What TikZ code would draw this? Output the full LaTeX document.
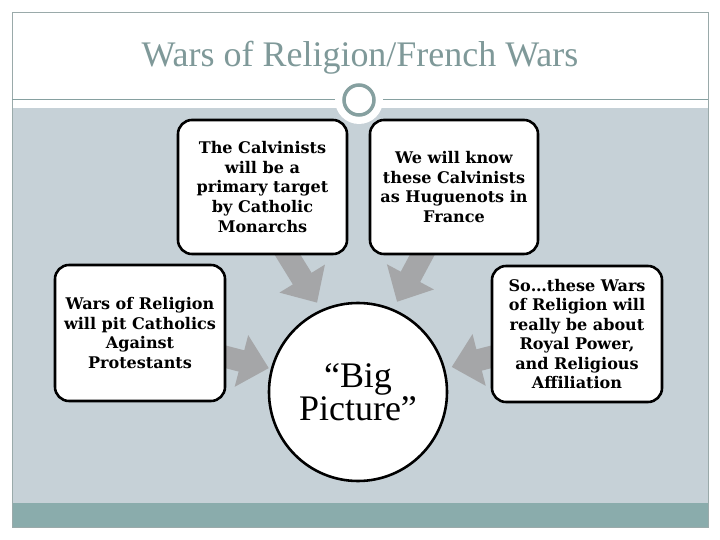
\documentclass[tikz,border=0pt]{standalone}
\usepackage{fontspec}
\setmainfont{Liberation Serif}
\newfontfamily\boxfont{DejaVu Serif}
\usetikzlibrary{arrows.meta}

\definecolor{panelgray}{HTML}{C6D1D7}
\definecolor{bandteal}{HTML}{8AACAC}
\definecolor{titlegray}{HTML}{7F9999}
\definecolor{ringgray}{HTML}{86A0A0}
\definecolor{arrowgray}{HTML}{A5A6A8}
\definecolor{framegray}{HTML}{9AAAAA}

\pgfdeclarelayer{slide}
\pgfdeclarelayer{arrows}
\pgfsetlayers{slide,arrows,main}

\begin{document}
\begin{tikzpicture}[
        x=0.03cm, y=-0.03cm,
        % Stili generali
        infobox/.style={draw=black, line width=2.2pt, fill=white, rounded corners=0.42cm,
            align=center, inner sep=0pt, font=\boxfont\bfseries\fontsize{13.7}{16.7}\selectfont},
        bigcircle/.style={draw=black, line width=2.2pt, fill=white, circle, minimum size=5.34cm,
            align=center, inner sep=0pt, font=\fontsize{30.7}{28.6}\selectfont},
        bigarrow/.style={draw=arrowgray, line width=0.66cm, shorten <=-0.3cm,
            -{Triangle[width=1.55cm, length=0.85cm]}},
        title/.style={text=titlegray, font=\fontsize{30.7}{37}\selectfont}
    ]

    % 1. Sfondo e cornice della slide
    \useasboundingbox (0, 0) rectangle (720, 540);
    \begin{pgfonlayer}{slide}
    \fill[white] (0, 0) rectangle (720, 540);
    \fill[panelgray] (12, 108) rectangle (708, 503);
    \fill[bandteal] (12, 503) rectangle (708, 527);
    \draw[framegray, thin] (12, 12) rectangle (708, 527);
    \end{pgfonlayer}

    % 2. Titolo e linea con anello
    \node[title, anchor=base] (heading) at (360, 67) {Wars of Religion/French Wars};
    \draw[ringgray, thin] (12, 99) -- (708, 99);
    \fill[white] (359, 100) circle (24);
    \draw[ringgray, line width=3pt, fill=white] (359, 100) circle (15);

    % 3. Riquadri
    \node[infobox, minimum width=5.07cm, minimum height=4.02cm] (target) at (262.5, 187)
        {The Calvinists\\will be a\\primary target\\by Catholic\\Monarchs};
    \node[infobox, minimum width=5.04cm, minimum height=4.02cm] (huguenots) at (454, 187)
        {We will know\\these Calvinists\\as Huguenots in\\France};
    \node[infobox, minimum width=5.1cm, minimum height=4.08cm] (catholics) at (140, 333)
        {Wars of Religion\\will pit Catholics\\Against\\Protestants};
    \node[infobox, minimum width=5.1cm, minimum height=4.08cm] (power) at (577, 334)
        {So…these Wars\\of Religion will\\really be about\\Royal Power,\\and Religious\\Affiliation};

    % 4. Cerchio centrale
    \node[bigcircle] (bigpic) at (358, 392) {“Big\\Picture”};

    % 5. Frecce verso il cerchio (sotto i riquadri)
    \begin{pgfonlayer}{arrows}
    \draw[bigarrow, shorten >=0.24cm] ([xshift=0.76cm]target.south) -- (bigpic.114);
    \draw[bigarrow, shorten >=0.24cm] ([xshift=-0.96cm]huguenots.south) -- (bigpic.67);
    \draw[bigarrow, shorten >=0.06cm] ([yshift=-0.72cm]catholics.east) -- (bigpic.165);
    \draw[bigarrow, shorten >=0.2cm] ([yshift=-0.69cm]power.west) -- (bigpic.15);
    \end{pgfonlayer}
\end{tikzpicture}
\end{document}
